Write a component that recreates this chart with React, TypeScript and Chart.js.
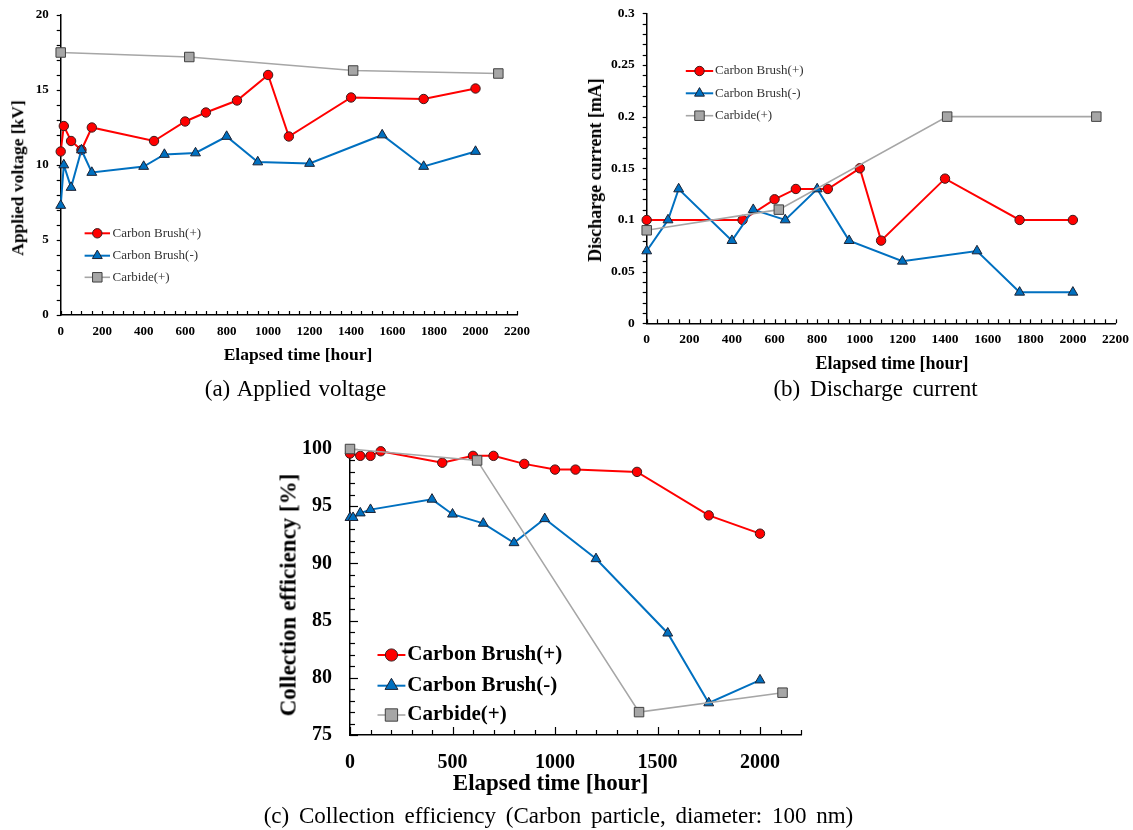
import React, { useEffect, useRef } from 'react';
import Chart from 'chart.js/auto';

const FONT = "'Liberation Serif', 'Times New Roman', Times, serif";

// ---------- shared ----------
const seriesNames = ['Carbon Brush(+)', 'Carbon Brush(-)', 'Carbide(+)'];
const timeTicksAB = [0, 200, 400, 600, 800, 1000, 1200, 1400, 1600, 1800, 2000, 2200];
const timeTicksC = [0, 500, 1000, 1500, 2000];

// ---------- (a) Applied voltage [kV] ----------
const voltCbPlusTime = [0, 15, 50, 100, 150, 450, 600, 700, 850, 1000, 1100, 1400, 1750, 2000];
const voltCbPlus = [10.9, 12.6, 11.6, 11.0, 12.5, 11.6, 12.9, 13.5, 14.3, 16.0, 11.9, 14.5, 14.4, 15.1];
const voltCbMinusTime = [0, 15, 50, 100, 150, 400, 500, 650, 800, 950, 1200, 1550, 1750, 2000];
const voltCbMinus = [7.3, 10.0, 8.5, 11.0, 9.5, 9.9, 10.7, 10.8, 11.9, 10.2, 10.1, 12.0, 9.9, 10.9];
const voltCarbideTime = [0, 620, 1410, 2110];
const voltCarbide = [17.5, 17.2, 16.3, 16.1];
const voltYTicks = [0, 5, 10, 15, 20];

// ---------- (b) Discharge current [mA] ----------
const curCbPlusTime = [0, 450, 600, 700, 850, 1000, 1100, 1400, 1750, 2000];
const curCbPlus = [0.1, 0.1, 0.12, 0.13, 0.13, 0.15, 0.08, 0.14, 0.1, 0.1];
const curCbMinusTime = [0, 100, 150, 400, 500, 650, 800, 950, 1200, 1550, 1750, 2000];
const curCbMinus = [0.07, 0.1, 0.13, 0.08, 0.11, 0.1, 0.13, 0.08, 0.06, 0.07, 0.03, 0.03];
const curCarbideTime = [0, 620, 1410, 2110];
const curCarbide = [0.09, 0.11, 0.2, 0.2];
const curYTicks = [0, 0.05, 0.1, 0.15, 0.2, 0.25, 0.3];

// ---------- (c) Collection efficiency [%] ----------
const effCbPlusTime = [0, 50, 100, 150, 450, 600, 700, 850, 1000, 1100, 1400, 1750, 2000];
const effCbPlus = [99.6, 99.4, 99.4, 99.8, 98.8, 99.4, 99.4, 98.7, 98.2, 98.2, 98.0, 94.2, 92.6];
const effCbMinusTime = [0, 15, 50, 100, 400, 500, 650, 800, 950, 1200, 1550, 1750, 2000];
const effCbMinus = [94.0, 94.0, 94.4, 94.7, 95.6, 94.3, 93.5, 91.8, 93.9, 90.4, 83.9, 77.8, 79.8];
const effCarbideTime = [0, 620, 1410, 2110];
const effCarbide = [100, 99.0, 77.0, 78.7];
const effYTicks = [75, 80, 85, 90, 95, 100];

// ---------- styles ----------
const STYLES = [
  { line: '#FF0000', fill: '#FF0000', edge: '#3a1c1c', shape: 'circle', r: 4.7, lw: 2, order: 2 },
  { line: '#0070C0', fill: '#0070C0', edge: '#1c2233', shape: 'triangle', r: 5.7, lw: 2, order: 1 },
  { line: '#A6A6A6', fill: '#A6A6A6', edge: '#404040', shape: 'rect', r: 6.7, lw: 1.6, order: 0 },
];

function makeDatasets(times: number[][], values: number[][]) {
  return values.map((vals, i) => ({
    label: seriesNames[i],
    data: vals.map((v, j) => ({ x: times[i][j], y: v })),
    borderColor: STYLES[i].line,
    backgroundColor: STYLES[i].fill,
    borderWidth: STYLES[i].lw,
    pointStyle: STYLES[i].shape,
    pointRadius: STYLES[i].r,
    pointHoverRadius: STYLES[i].r,
    pointBackgroundColor: STYLES[i].fill,
    pointBorderColor: STYLES[i].edge,
    pointBorderWidth: 1,
    tension: 0,
    clip: false,
    order: STYLES[i].order,
  }));
}

function drawMarker(ctx: CanvasRenderingContext2D, shape: string, x: number, y: number, r: number, fill: string, edge: string) {
  ctx.beginPath();
  if (shape === 'circle') {
    ctx.arc(x, y, r, 0, Math.PI * 2);
  } else if (shape === 'triangle') {
    let rad = 0;
    ctx.moveTo(x + Math.sin(rad) * r, y - Math.cos(rad) * r);
    rad += (2 * Math.PI) / 3;
    ctx.lineTo(x + Math.sin(rad) * r, y - Math.cos(rad) * r);
    rad += (2 * Math.PI) / 3;
    ctx.lineTo(x + Math.sin(rad) * r, y - Math.cos(rad) * r);
    ctx.closePath();
  } else {
    const s = Math.SQRT1_2 * r;
    ctx.rect(x - s, y - s, 2 * s, 2 * s);
  }
  ctx.fillStyle = fill;
  ctx.fill();
  ctx.lineWidth = 1;
  ctx.strokeStyle = edge;
  ctx.stroke();
}

const minorTicksPlugin = {
  id: 'minorTicks',
  beforeDatasetsDraw(chart: any, _args: any, opts: any) {
    const ctx = chart.ctx as CanvasRenderingContext2D;
    ctx.save();
    ctx.strokeStyle = '#000';
    ctx.lineWidth = 1.2;
    for (const key of ['x', 'y']) {
      const o = opts && opts[key];
      if (!o) continue;
      const scale = chart.scales[key];
      const n = Math.round((scale.max - scale.min) / o.step);
      for (let k = 0; k <= n; k++) {
        const v = scale.min + k * o.step;
        const q = o.majorStep ? v / o.majorStep : 0.5;
        const isMajor = o.majorStep && Math.abs(q - Math.round(q)) < 1e-6;
        const len = isMajor ? o.majorLen : o.len;
        const p = Math.round(scale.getPixelForValue(v)) + 0.5;
        ctx.beginPath();
        if (key === 'x') {
          const y0 = chart.chartArea.bottom;
          const dir = o.dir === 'in' ? -1 : 1;
          ctx.moveTo(p, y0);
          ctx.lineTo(p, y0 + dir * len);
        } else {
          const x0 = chart.chartArea.left;
          const dir = o.dir === 'in' ? 1 : -1;
          ctx.moveTo(x0, p);
          ctx.lineTo(x0 + dir * len, p);
        }
        ctx.stroke();
      }
    }
    ctx.restore();
  },
};

const insideLegendPlugin = {
  id: 'insideLegend',
  afterDraw(chart: any, _args: any, o: any) {
    if (!o || !o.ys) return;
    const ctx = chart.ctx as CanvasRenderingContext2D;
    chart.data.datasets.forEach((ds: any, i: number) => {
      const y = o.ys[i];
      ctx.save();
      ctx.strokeStyle = ds.borderColor;
      ctx.lineWidth = ds.borderWidth;
      ctx.beginPath();
      ctx.moveTo(o.x0, y);
      ctx.lineTo(o.x1, y);
      ctx.stroke();
      drawMarker(ctx, ds.pointStyle, (o.x0 + o.x1) / 2, y, ds.pointRadius * (o.markerScale || 1), ds.pointBackgroundColor, ds.pointBorderColor);
      ctx.fillStyle = o.color;
      ctx.font = o.font;
      ctx.textBaseline = 'middle';
      ctx.textAlign = 'left';
      ctx.fillText(ds.label, o.textX, y);
      ctx.restore();
    });
  },
};

type Cfg = {
  datasets: any[];
  xMin: number; xMax: number; xTicks: number[];
  yMin: number; yMax: number; yTicks: number[];
  yFmt: (v: number) => string;
  padding: { left: number; top: number; right: number; bottom: number };
  xH: number; yW: number;
  tickSize: number; xPad: number; yPad: number;
  minor: any; legend: any;
};

function buildConfig(c: Cfg): any {
  const tickFont = { family: FONT, size: c.tickSize, weight: 'bold' as const };
  return {
    type: 'line',
    data: { datasets: c.datasets },
    options: {
      responsive: false,
      animation: false,
      events: [],
      layout: { padding: c.padding },
      plugins: {
        legend: { display: false },
        tooltip: { enabled: false },
        minorTicks: c.minor,
        insideLegend: c.legend,
      },
      scales: {
        x: {
          type: 'linear',
          min: c.xMin,
          max: c.xMax,
          afterBuildTicks: (s: any) => { s.ticks = c.xTicks.map((v) => ({ value: v })); },
          afterFit: (s: any) => {
            s.height = c.xH;
            s.paddingLeft = 0; s.paddingRight = 0; s.paddingTop = 0; s.paddingBottom = 0;
          },
          grid: { display: false, drawTicks: false },
          border: { display: true, color: '#000', width: 1.5 },
          ticks: {
            font: tickFont, color: '#000', padding: c.xPad,
            maxRotation: 0, minRotation: 0, autoSkip: false, includeBounds: false,
            callback: (v: any) => String(v),
          },
        },
        y: {
          type: 'linear',
          min: c.yMin,
          max: c.yMax,
          afterBuildTicks: (s: any) => { s.ticks = c.yTicks.map((v) => ({ value: v })); },
          afterFit: (s: any) => {
            s.width = c.yW;
            s.paddingLeft = 0; s.paddingRight = 0; s.paddingTop = 0; s.paddingBottom = 0;
          },
          grid: { display: false, drawTicks: false },
          border: { display: true, color: '#000', width: 1.5 },
          ticks: {
            font: tickFont, color: '#000', padding: c.yPad, autoSkip: false, includeBounds: false,
            callback: (v: any) => c.yFmt(Number(v)),
          },
        },
      },
    },
    plugins: [minorTicksPlugin, insideLegendPlugin],
  };
}

function ChartBox({ left, top, width, height, make }: { left: number; top: number; width: number; height: number; make: () => any }) {
  const ref = useRef<HTMLCanvasElement | null>(null);
  useEffect(() => {
    if (!ref.current) return;
    const chart = new Chart(ref.current, make());
    return () => chart.destroy();
  }, []);
  return (
    <canvas
      ref={ref}
      width={width}
      height={height}
      style={{ position: 'absolute', left, top, width, height }}
    />
  );
}

function Label({ text, x, y, size, bold, rotate, wordSpacing }: { text: string; x: number; y: number; size: number; bold?: boolean; rotate?: boolean; wordSpacing?: number }) {
  return (
    <div
      style={{
        position: 'absolute',
        left: x,
        top: y,
        transform: `translate(-50%, -50%)${rotate ? ' rotate(-90deg)' : ''}`,
        whiteSpace: 'nowrap',
        fontFamily: FONT,
        fontSize: size,
        fontWeight: bold ? 'bold' : 'normal',
        lineHeight: 1,
        color: '#000',
        wordSpacing: wordSpacing || 0,
      }}
    >
      {text}
    </div>
  );
}

const makeA = () =>
  buildConfig({
    datasets: makeDatasets([voltCbPlusTime, voltCbMinusTime, voltCarbideTime], [voltCbPlus, voltCbMinus, voltCarbide]),
    xMin: 0, xMax: 2200, xTicks: timeTicksAB,
    yMin: 0, yMax: 20, yTicks: voltYTicks,
    yFmt: (v) => String(v),
    padding: { left: 0, top: 15, right: 49, bottom: 45 },
    xH: 40, yW: 60.7,
    tickSize: 13, xPad: 9, yPad: 12,
    minor: { x: { step: 50, len: 4, dir: 'in' }, y: { step: 1, len: 4, dir: 'out' } },
    legend: { x0: 84.6, x1: 110, textX: 112.5, ys: [233.3, 255.7, 277.3], font: `13px ${FONT}`, color: '#333' },
  });

const makeB = () =>
  buildConfig({
    datasets: makeDatasets([curCbPlusTime, curCbMinusTime, curCarbideTime], [curCbPlus, curCbMinus, curCarbide]),
    xMin: 0, xMax: 2200, xTicks: timeTicksAB,
    yMin: 0, yMax: 0.3, yTicks: curYTicks,
    yFmt: (v) => String(Number(v.toFixed(2))),
    padding: { left: 0, top: 13.3, right: 17.5, bottom: 36.7 },
    xH: 40, yW: 71.7,
    tickSize: 13.5, xPad: 8.5, yPad: 12,
    minor: { x: { step: 50, len: 4, dir: 'in' }, y: { step: 0.01, len: 4, dir: 'out' } },
    legend: { x0: 110.8, x1: 138.2, textX: 140, ys: [71, 93.3, 115.7], font: `13px ${FONT}`, color: '#333' },
  });

const makeC = () =>
  buildConfig({
    datasets: makeDatasets([effCbPlusTime, effCbMinusTime, effCarbideTime], [effCbPlus, effCbMinus, effCarbide]),
    xMin: 0, xMax: 2200, xTicks: timeTicksC,
    yMin: 75, yMax: 100, yTicks: effYTicks,
    yFmt: (v) => String(v),
    padding: { left: 0, top: 29, right: 39, bottom: 55 },
    xH: 40, yW: 70,
    tickSize: 20, xPad: 16, yPad: 18,
    minor: {
      x: { step: 100, len: 5, dir: 'in', majorStep: 500, majorLen: 8 },
      y: { step: 1, len: 5, dir: 'in', majorStep: 5, majorLen: 8 },
    },
    legend: { x0: 97.5, x1: 125.4, textX: 127.3, ys: [235, 265.7, 295], font: `bold 21px ${FONT}`, color: '#000', markerScale: 1.3 },
  });

export default function App() {
  return (
    <div style={{ position: 'absolute', left: 0, top: 0, width: 1133, height: 830, background: '#fff', overflow: 'hidden' }}>
      <ChartBox left={0} top={0} width={566} height={400} make={makeA} />
      <ChartBox left={575} top={0} width={558} height={400} make={makeB} />
      <ChartBox left={280} top={420} width={560} height={410} make={makeC} />

      <Label text="Applied voltage [kV]" x={18} y={178} size={17.5} bold rotate />
      <Label text="Elapsed time [hour]" x={298} y={355} size={17.5} bold />
      <Label text="(a) Applied voltage" x={295.5} y={388} size={23} wordSpacing={2} />

      <Label text="Discharge current [mA]" x={595} y={170} size={18} bold rotate />
      <Label text="Elapsed time [hour]" x={892} y={363} size={18} bold />
      <Label text="(b) Discharge current" x={875.6} y={388} size={23} wordSpacing={4} />

      <Label text="Collection efficiency [%]" x={287.6} y={595} size={23} bold rotate />
      <Label text="Elapsed time [hour]" x={550.6} y={782} size={23} bold />
      <Label text="(c) Collection efficiency (Carbon particle, diameter: 100 nm)" x={558.5} y={815} size={23} wordSpacing={4} />
    </div>
  );
}
